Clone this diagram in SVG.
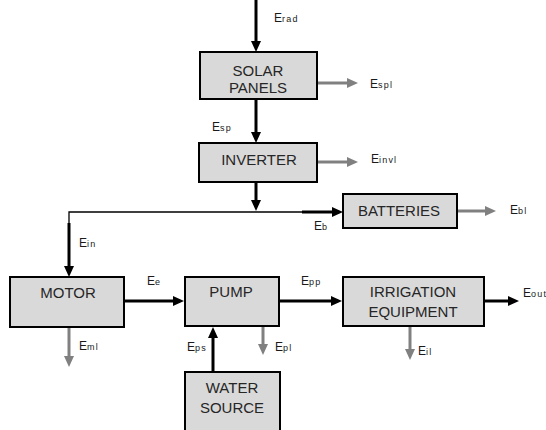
<svg xmlns="http://www.w3.org/2000/svg" width="546" height="430" viewBox="0 0 546 430">
<defs>
<style>
.box{fill:#d9d9d9;stroke:#000;stroke-width:2}
.lbl{font-family:"Liberation Sans",Arial,sans-serif;font-size:15px;fill:#262626;text-anchor:middle}
.e{font-family:"Liberation Sans",Arial,sans-serif;font-size:12px;fill:#1a1a1a}
.sub{font-size:9px;letter-spacing:1.2px}
.blk{stroke:#000;stroke-width:3;fill:none}
.gry{stroke:#808080;stroke-width:3;fill:none}
.thin{stroke:#000;stroke-width:1.3;fill:none}
</style>
<marker id="ab" markerUnits="userSpaceOnUse" markerWidth="11" markerHeight="10" refX="0" refY="5" orient="auto"><path d="M0,0 L11,5 L0,10 z" fill="#000"/></marker>
<marker id="ag" markerUnits="userSpaceOnUse" markerWidth="11" markerHeight="10" refX="0" refY="5" orient="auto"><path d="M0,0 L11,5 L0,10 z" fill="#808080"/></marker>
</defs>
<rect width="546" height="430" fill="#fff"/>
<g id="connectors">
<line class="blk" x1="256" y1="0" x2="256" y2="41" marker-end="url(#ab)"/>
<line class="gry" x1="318" y1="83" x2="347" y2="83" marker-end="url(#ag)"/>
<line class="blk" x1="256" y1="100" x2="256" y2="132" marker-end="url(#ab)"/>
<line class="gry" x1="318" y1="162" x2="347" y2="162" marker-end="url(#ag)"/>
<line class="blk" x1="256" y1="183" x2="256" y2="200" marker-end="url(#ab)"/>
<polyline class="thin" points="69,223 69,212 302,212"/>
<line class="blk" x1="302" y1="212" x2="332" y2="212" marker-end="url(#ab)"/>
<line class="gry" x1="458" y1="211" x2="485" y2="211" marker-end="url(#ag)"/>
<line class="blk" x1="69" y1="223" x2="69" y2="266" marker-end="url(#ab)"/>
<line class="blk" x1="125" y1="301" x2="173" y2="301" marker-end="url(#ab)"/>
<line class="gry" x1="69" y1="328" x2="69" y2="356" marker-end="url(#ag)"/>
<line class="blk" x1="280" y1="301" x2="331" y2="301" marker-end="url(#ab)"/>
<line class="blk" x1="213" y1="371" x2="213" y2="338" marker-end="url(#ab)"/>
<line class="gry" x1="263" y1="327" x2="263" y2="344" marker-end="url(#ag)"/>
<line class="blk" x1="485" y1="301" x2="508" y2="301" marker-end="url(#ab)"/>
<line class="gry" x1="410" y1="327" x2="410" y2="349" marker-end="url(#ag)"/>
</g>
<g id="solar">
<rect class="box" x="200" y="52" width="117" height="47"/>
<text class="lbl" x="258" y="76">SOLAR</text>
<text class="lbl" x="258" y="93">PANELS</text>
</g>
<g id="inverter">
<rect class="box" x="199" y="143" width="118" height="39"/>
<text class="lbl" x="259" y="165">INVERTER</text>
</g>
<g id="batteries">
<rect class="box" x="343" y="194" width="114" height="34"/>
<text class="lbl" x="399" y="216">BATTERIES</text>
</g>
<g id="motor">
<rect class="box" x="10" y="277" width="114" height="50"/>
<text class="lbl" x="68" y="298">MOTOR</text>
</g>
<g id="pump">
<rect class="box" x="185" y="277" width="94" height="49"/>
<text class="lbl" x="231" y="297">PUMP</text>
</g>
<g id="irrigation">
<rect class="box" x="343" y="277" width="141" height="49"/>
<text class="lbl" x="413" y="297">IRRIGATION</text>
<text class="lbl" x="413" y="317">EQUIPMENT</text>
</g>
<g id="water">
<rect class="box" x="185" y="372" width="95" height="62"/>
<text class="lbl" x="232" y="393">WATER</text>
<text class="lbl" x="232" y="413">SOURCE</text>
</g>
<g id="labels">
<text class="e" x="274" y="22">E<tspan class="sub">rad</tspan></text>
<text class="e" x="370" y="88">E<tspan class="sub">spl</tspan></text>
<text class="e" x="212" y="131">E<tspan class="sub">sp</tspan></text>
<text class="e" x="371" y="163">E<tspan class="sub">invl</tspan></text>
<text class="e" x="314" y="230">E<tspan class="sub">b</tspan></text>
<text class="e" x="510" y="214">E<tspan class="sub">bl</tspan></text>
<text class="e" x="79" y="247">E<tspan class="sub">in</tspan></text>
<text class="e" x="147" y="285">E<tspan class="sub">e</tspan></text>
<text class="e" x="79" y="350">E<tspan class="sub">ml</tspan></text>
<text class="e" x="301" y="285">E<tspan class="sub">pp</tspan></text>
<text class="e" x="187" y="351">E<tspan class="sub">ps</tspan></text>
<text class="e" x="275" y="351">E<tspan class="sub">pl</tspan></text>
<text class="e" x="523" y="297">E<tspan class="sub">out</tspan></text>
<text class="e" x="418" y="355">E<tspan class="sub">il</tspan></text>
</g>
</svg>
